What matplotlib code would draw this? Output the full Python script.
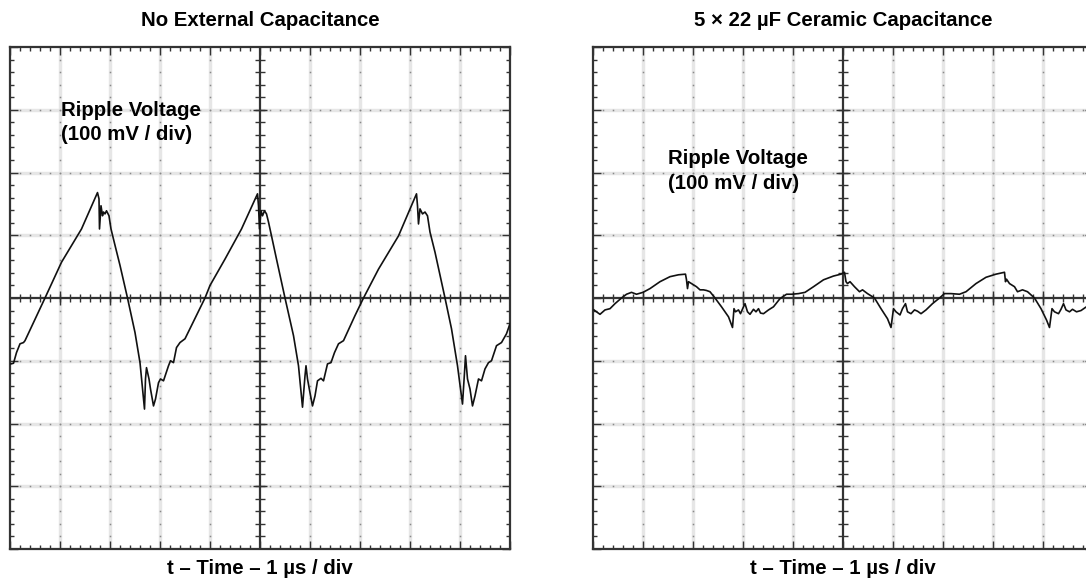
import numpy as np
import matplotlib
matplotlib.use("Agg")
import matplotlib.pyplot as plt

plt.rcParams['font.family'] = ['Liberation Sans', 'DejaVu Sans']

# time in divisions (1 us / div), voltage in divisions (100 mV / div)
left_t = [0.02, 0.07, 0.13, 0.20, 0.27, 0.30, 0.70, 1.03, 1.43, 1.75, 1.78, 1.79, 1.82,
          1.85, 1.87, 1.90, 1.93, 1.98, 2.02, 2.10, 2.20, 2.35, 2.50, 2.60, 2.69, 2.71,
          2.73, 2.78, 2.81, 2.87, 2.91, 2.97, 3.01, 3.07, 3.17, 3.21, 3.27, 3.33, 3.40,
          3.50, 3.90, 4.00, 4.30, 4.63, 4.95, 4.97, 4.99, 5.02, 5.05, 5.09, 5.13, 5.17,
          5.23, 5.33, 5.50, 5.67, 5.77, 5.85, 5.90, 5.92, 5.95, 6.00, 6.05, 6.10, 6.15,
          6.22, 6.27, 6.35, 6.42, 6.49, 6.57, 6.67, 6.90, 7.07, 7.37, 7.77, 8.13, 8.15,
          8.17, 8.20, 8.25, 8.30, 8.35, 8.40, 8.50, 8.70, 8.83, 8.95, 9.05, 9.09, 9.11,
          9.15, 9.20, 9.25, 9.30, 9.37, 9.43, 9.50, 9.57, 9.63, 9.73, 9.83, 9.93, 10.0]
left_v = [-1.05, -1.04, -0.87, -0.73, -0.71, -0.68, 0.00, 0.57, 1.10, 1.68, 1.58, 1.10, 1.47,
          1.31, 1.37, 1.34, 1.39, 1.31, 1.10, 0.84, 0.52, 0.00, -0.55, -1.03, -1.77, -1.29,
          -1.11, -1.29, -1.45, -1.72, -1.61, -1.35, -1.29, -1.32, -1.08, -1.00, -1.03, -0.79, -0.71,
          -0.65, 0.00, 0.20, 0.62, 1.10, 1.66, 1.47, 1.10, 1.39, 1.31, 1.39, 1.34, 1.21,
          0.99, 0.62, 0.00, -0.60, -1.08, -1.74, -1.24, -1.08, -1.29, -1.51, -1.72, -1.56, -1.32,
          -1.28, -1.32, -1.05, -1.03, -0.87, -0.73, -0.68, -0.28, 0.00, 0.46, 0.99, 1.66, 1.47,
          1.18, 1.42, 1.34, 1.37, 1.31, 1.05, 0.73, 0.00, -0.49, -1.08, -1.69, -1.19, -0.92,
          -1.29, -1.45, -1.72, -1.56, -1.29, -1.32, -1.13, -1.03, -1.00, -0.76, -0.71, -0.57, -0.41]

right_t = [0.02, 0.07, 0.14, 0.24, 0.34, 0.44, 0.57, 0.67, 0.77, 0.87, 1.00, 1.14, 1.34,
           1.54, 1.71, 1.85, 1.87, 1.89, 1.91, 1.97, 2.07, 2.14, 2.21, 2.27, 2.34, 2.44,
           2.57, 2.71, 2.79, 2.82, 2.85, 2.91, 2.95, 3.01, 3.04, 3.09, 3.14, 3.21, 3.26,
           3.31, 3.35, 3.41, 3.51, 3.61, 3.74, 3.87, 3.97, 4.11, 4.24, 4.41, 4.61, 4.81,
           4.96, 5.03, 5.06, 5.09, 5.14, 5.23, 5.33, 5.39, 5.49, 5.63, 5.76, 5.89, 5.96,
           6.01, 6.06, 6.14, 6.19, 6.25, 6.29, 6.36, 6.43, 6.49, 6.56, 6.66, 6.79, 6.93,
           7.03, 7.16, 7.33, 7.46, 7.66, 7.86, 8.06, 8.23, 8.25, 8.27, 8.33, 8.43, 8.49,
           8.59, 8.69, 8.83, 8.96, 9.07, 9.13, 9.18, 9.23, 9.31, 9.36, 9.41, 9.46, 9.53,
           9.59, 9.67, 9.76, 9.85, 9.95]
right_v = [-0.19, -0.22, -0.26, -0.19, -0.17, -0.09, 0.00, 0.06, 0.09, 0.06, 0.09, 0.15, 0.26,
           0.34, 0.37, 0.38, 0.29, 0.15, 0.26, 0.23, 0.18, 0.13, 0.13, 0.12, 0.10, 0.00,
           -0.14, -0.30, -0.47, -0.17, -0.22, -0.19, -0.25, -0.14, -0.09, -0.22, -0.26, -0.18, -0.22,
           -0.17, -0.24, -0.25, -0.19, -0.14, -0.01, 0.06, 0.06, 0.07, 0.09, 0.18, 0.29, 0.35,
           0.38, 0.41, 0.26, 0.23, 0.26, 0.18, 0.10, 0.13, 0.07, 0.00, -0.17, -0.33, -0.47,
           -0.17, -0.22, -0.27, -0.17, -0.09, -0.22, -0.25, -0.19, -0.21, -0.25, -0.19, -0.09, 0.00,
           0.07, 0.07, 0.06, 0.10, 0.23, 0.33, 0.38, 0.41, 0.26, 0.30, 0.23, 0.18, 0.10,
           0.13, 0.10, 0.00, -0.17, -0.35, -0.47, -0.17, -0.22, -0.25, -0.18, -0.09, -0.19, -0.22,
           -0.18, -0.22, -0.20, -0.15, -0.10]

titles = ["No External Capacitance", "5 \u00d7 22 \u00b5F Ceramic Capacitance"]
xlabel = "t \u2013 Time \u2013 1 \u00b5s / div"
note = ["Ripple Voltage", "(100 mV / div)"]

W, H = 1086, 581
FS = 14.7
fig = plt.figure(figsize=(W / 100, H / 100), dpi=100)


def px_box(x0, y0, x1, y1):
    return [x0 / W, 1 - y1 / H, (x1 - x0) / W, (y1 - y0) / H]


def draw_scope(ax):
    ax.set_xlim(0, 10)
    ax.set_ylim(-4, 4)
    frame = '#333333'
    for s in ax.spines.values():
        s.set_color(frame)
        s.set_linewidth(1.6)
    ax.set_xticks(np.arange(0, 11, 1))
    ax.set_yticks(np.arange(-4, 5, 1))
    ax.set_xticks(np.arange(0, 10.01, 0.2), minor=True)
    ax.set_yticks(np.arange(-4, 4.01, 0.2), minor=True)
    ax.tick_params(which='both', direction='in', top=True, right=True,
                   labelbottom=False, labelleft=False, color=frame, width=1.0)
    ax.tick_params(which='major', length=6)
    ax.tick_params(which='minor', length=3)

    # dotted graticule
    minor_x = np.arange(0.2, 10, 0.2)
    minor_y = np.arange(-3.8, 4, 0.2)
    for gx in [1, 2, 3, 4, 6, 7, 8, 9]:
        ax.axvline(gx, color='#e6e6e6', lw=2.5, zorder=0)
        ax.plot(np.full_like(minor_y, gx), minor_y, ls='none', marker='s',
                ms=1.1, color='#8a8a8a', mew=0, zorder=1)
    for gy in [-3, -2, -1, 1, 2, 3]:
        ax.axhline(gy, color='#e6e6e6', lw=2.5, zorder=0)
        ax.plot(minor_x, np.full_like(minor_x, gy), ls='none', marker='s',
                ms=1.1, color='#8a8a8a', mew=0, zorder=1)

    # centre crosshair with tick marks
    ax.axhline(0, color=frame, lw=1.6, zorder=2)
    ax.axvline(5, color=frame, lw=1.6, zorder=2)
    ax.plot(minor_x, np.zeros_like(minor_x), ls='none', marker='|', ms=6,
            mew=1.0, color=frame, zorder=2)
    ax.plot(np.full_like(minor_y, 5), minor_y, ls='none', marker='_', ms=7,
            mew=1.0, color=frame, zorder=2)
    major_x = np.array([1, 2, 3, 4, 6, 7, 8, 9])
    major_y = np.array([-3, -2, -1, 1, 2, 3])
    ax.plot(major_x, np.zeros_like(major_x), ls='none', marker='|', ms=10,
            mew=1.0, color=frame, zorder=2)
    ax.plot(np.full_like(major_y, 5), major_y, ls='none', marker='_', ms=10,
            mew=1.0, color=frame, zorder=2)
    ax.set_facecolor('white')


ax1 = fig.add_axes(px_box(10, 47, 510, 549))
ax2 = fig.add_axes(px_box(593, 47, 1093, 549))

for ax, t, v, title, cx in [(ax1, left_t, left_v, titles[0], 260),
                            (ax2, right_t, right_v, titles[1], 843)]:
    draw_scope(ax)
    ax.plot(t, v, color='#111111', lw=1.2, zorder=3)
    fig.text(cx / W, 1 - 20 / H, title, ha='center', va='center',
             fontsize=FS, fontweight='bold')
    fig.text(cx / W, 1 - 568 / H, xlabel, ha='center', va='center',
             fontsize=FS, fontweight='bold')

ax1.text(1.02, 2.90, note[0], fontsize=FS, fontweight='bold', va='baseline', zorder=4)
ax1.text(1.02, 2.52, note[1], fontsize=FS, fontweight='bold', va='baseline', zorder=4)
ax2.text(1.50, 2.13, note[0], fontsize=FS, fontweight='bold', va='baseline', zorder=4)
ax2.text(1.50, 1.74, note[1], fontsize=FS, fontweight='bold', va='baseline', zorder=4)

fig.savefig("out.png", dpi=100)
